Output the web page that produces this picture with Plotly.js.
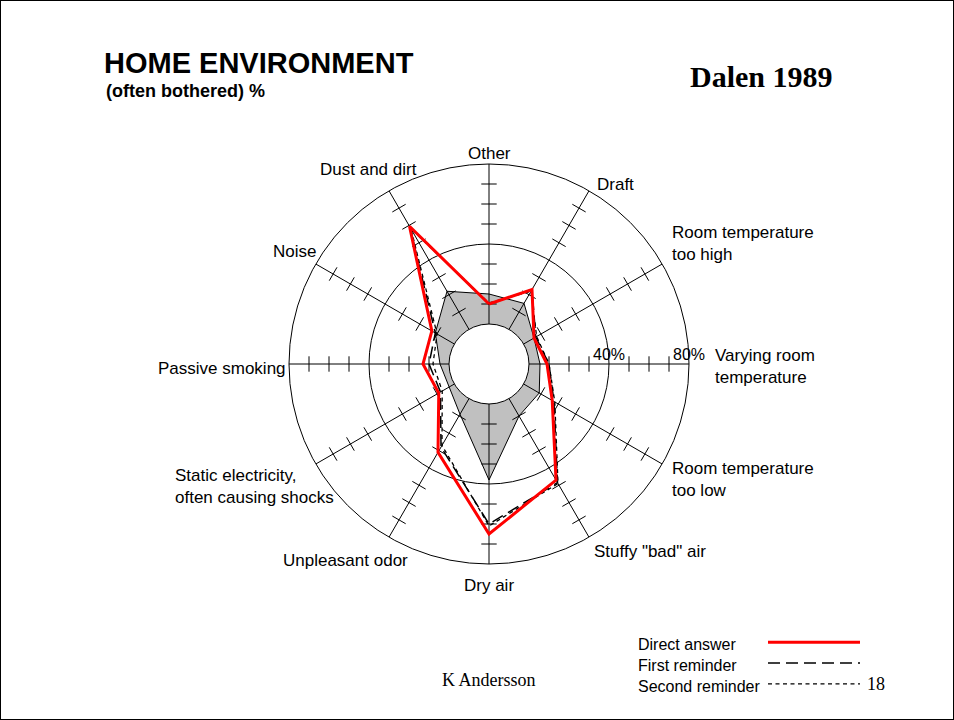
<!DOCTYPE html>
<html><head><meta charset="utf-8">
<script src="https://cdn.plot.ly/plotly-3.0.1.min.js"></script>
<style>
html,body{margin:0;padding:0;background:#fff}
#wrap{position:relative;width:954px;height:720px}
#chart{width:954px;height:720px}
#frame{position:absolute;left:0;top:0;width:954px;height:720px;box-sizing:border-box;border:1px solid #000;pointer-events:none}
</style>
</head><body><div id="wrap"><div id="chart"></div><div id="frame"></div></div>
<script>
// ---- data ----
const categories = ["Other", "Draft", "Room temperature<br>too high", "Varying room<br>temperature",
  "Room temperature<br>too low", "Stuffy \"bad\" air", "Dry air", "Unpleasant odor",
  "Static electricity,<br>often causing shocks", "Passive smoking", "Noise", "Dust and dirt"];
const directAnswer   = [10, 23, 6, 9, 16.5, 47, 65, 31, 9, 13, 13, 59.5];
const firstReminder  = [10, 23, 7, 10, 17.5, 48.5, 60, 28, 8, 10, 11, 59];
const secondReminder = [10.5, 22, 7.5, 10, 18, 49, 61, 27, 7, 8, 10, 58];
const referenceArea  = [15, 15, 6, 5.5, 9, 10, 38, 9, 3, 4.5, 11, 22];
const seriesNames = ["Direct answer", "First reminder", "Second reminder"];
const radialRange = [0, 80];
const radialTickVals = [0, 40, 80];
const radialTickText = ["", "40%", "80%"];
const minorTickVals = [10, 20, 30, 50, 60, 70];

// ---- styles / placement ----
const FONT = "Liberation Sans, Arial, sans-serif";
const SERIF = "Liberation Serif, Times New Roman, serif";
const W = 954, H = 720;
const px = x => x / W, py = y => 1 - y / H;
// label placement around the wheel (pixel anchor, alignment), same order as categories
const labelPlace = [
  {x: 489, y: 153, a: "center"}, {x: 595, y: 184, a: "left"}, {x: 670, y: 243, a: "left"},
  {x: 713, y: 366, a: "left"}, {x: 670, y: 479, a: "left"}, {x: 592, y: 551, a: "left"},
  {x: 489, y: 585, a: "center"}, {x: 410, y: 560, a: "right"}, {x: 173, y: 486, a: "left"},
  {x: 288, y: 369, a: "right"}, {x: 318, y: 252, a: "right"}, {x: 318, y: 169, a: "left"}
];
const seriesStyles = [
  {color: "#ff0000", width: 3, dash: "solid"},
  {color: "#000", width: 1.5, dash: "12px,6px"},
  {color: "#000", width: 1.3, dash: "4px,3.5px"}
];
const legendCenterY = 665, legendLineGap = 20.8, legendKeyLift = 2;

const closeT = a => a.concat([a[0]]);

// spokes
const spokeT = [], spokeR = [];
categories.forEach(c => { spokeT.push(c, c, null); spokeR.push(radialRange[0], radialRange[1], null); });
// minor ticks on every spoke
const tickT = [], tickR = [], tickA = [];
const step = 360 / categories.length;
categories.forEach((c, i) => minorTickVals.forEach(v => { tickT.push(c); tickR.push(v); tickA.push(i * step); }));

const seriesData = [directAnswer, firstReminder, secondReminder];

const traces = [
  {type: "scatterpolar", theta: closeT(categories), r: closeT(referenceArea), mode: "lines",
   fill: "toself", fillcolor: "#c0c0c0", line: {color: "#000", width: 1}, showlegend: false, hoverinfo: "skip"},
  {type: "scatterpolar", theta: spokeT, r: spokeR, mode: "lines", line: {color: "#000", width: 1},
   showlegend: false, hoverinfo: "skip", connectgaps: false},
  {type: "scatterpolar", theta: tickT, r: tickR, mode: "markers",
   marker: {symbol: "line-ew", size: 11, angle: tickA, line: {color: "#000", width: 1}},
   showlegend: false, hoverinfo: "skip"}
];
// draw second reminder first, direct answer on top
[2, 1, 0].forEach(k => traces.push({
  type: "scatterpolar", name: seriesNames[k], theta: closeT(categories), r: closeT(seriesData[k]),
  mode: "lines", line: seriesStyles[k], showlegend: false
}));

const annotations = [
  {text: "<b>(often bothered) %</b>", xref: "paper", yref: "paper", x: px(104), y: py(91),
   xanchor: "left", yanchor: "middle", showarrow: false, font: {family: FONT, size: 18, color: "#000"}},
  {text: "<b>Dalen 1989</b>", xref: "paper", yref: "paper", x: px(761), y: py(77),
   xanchor: "center", yanchor: "middle", showarrow: false, font: {family: SERIF, size: 30, color: "#000"}},
  {text: "K Andersson", xref: "paper", yref: "paper", x: px(489), y: py(680),
   xanchor: "center", yanchor: "middle", showarrow: false, font: {family: SERIF, size: 18, color: "#000"}},
  {text: "18", xref: "paper", yref: "paper", x: px(876), y: py(684),
   xanchor: "center", yanchor: "middle", showarrow: false, font: {family: SERIF, size: 18, color: "#000"}},
  {text: seriesNames.join("<br>"), xref: "paper", yref: "paper", x: px(636), y: py(legendCenterY),
   xanchor: "left", align: "left", yanchor: "middle", showarrow: false,
   font: {family: FONT, size: 16, color: "#000"}}
];
categories.forEach((c, i) => {
  const p = labelPlace[i];
  annotations.push({text: c, xref: "paper", yref: "paper", x: px(p.x), y: py(p.y),
    xanchor: p.a, align: p.a, yanchor: "middle", showarrow: false,
    font: {family: FONT, size: 17, color: "#000"}});
});
const shapes = seriesNames.map((n, k) => {
  const ly = legendCenterY + (k - 1) * legendLineGap - legendKeyLift;
  return {type: "line", xref: "paper", yref: "paper", x0: px(768), x1: px(860),
    y0: py(ly), y1: py(ly), line: seriesStyles[k]};
});

const layout = {
  width: W, height: H,
  margin: {l: 0, r: 0, t: 0, b: 0},
  paper_bgcolor: "#fff",
  font: {family: FONT, color: "#000", size: 16},
  title: {text: "<b>HOME ENVIRONMENT</b>", x: px(104), xanchor: "left", xref: "container",
          y: py(63), yanchor: "middle", yref: "container",
          font: {family: FONT, size: 29, color: "#000"}},
  polar: {
    domain: {x: [px(289), px(689)], y: [py(564), py(164)]},
    hole: 0.2,
    bgcolor: "#fff",
    angularaxis: {type: "category", categoryorder: "array", categoryarray: categories,
      direction: "clockwise", rotation: 90, showgrid: false, ticks: "", showticklabels: false,
      showline: true, linecolor: "#000", linewidth: 1},
    radialaxis: {range: radialRange, tickvals: radialTickVals, ticktext: radialTickText,
      angle: 0, side: "counterclockwise", showline: false, ticks: "",
      showgrid: true, gridcolor: "#000", gridwidth: 1,
      tickfont: {family: FONT, size: 16, color: "#000"}}
  },
  annotations: annotations,
  shapes: shapes,
  showlegend: false
};

Plotly.newPlot("chart", traces, layout, {displayModeBar: false, staticPlot: true});
</script></body></html>
